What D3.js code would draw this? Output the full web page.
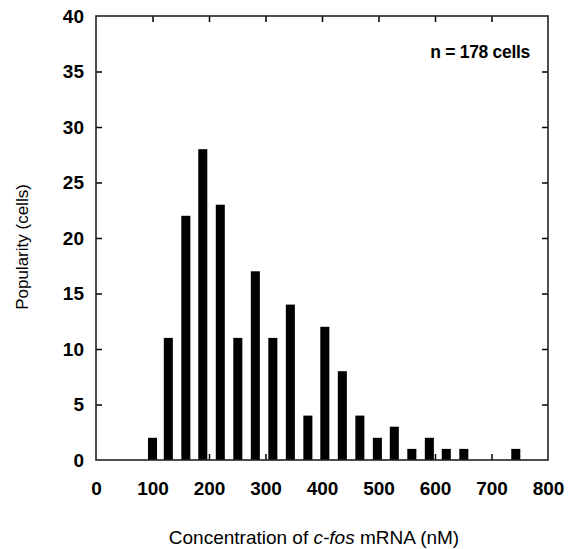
<!DOCTYPE html>
<html>
<head>
<meta charset="utf-8">
<script src="https://cdn.jsdelivr.net/npm/d3@7"></script>
<style>
  body { margin: 0; background: #fff; }
  text { font-family: "Liberation Sans", Arial, sans-serif; }
</style>
</head>
<body>
<svg id="chart" width="570" height="549"></svg>
<script>
// bin centres (nM) and counts
const binCenters = [100, 128, 159, 189, 220, 251, 282, 313, 344, 375, 405, 436, 467, 498, 528, 559, 590, 620, 651, 743];
const cellCounts = [2, 11, 22, 28, 23, 11, 17, 11, 14, 4, 12, 8, 4, 2, 3, 1, 2, 1, 1, 1];
const xTicks = [0, 100, 200, 300, 400, 500, 600, 700, 800];
const yTicks = [0, 5, 10, 15, 20, 25, 30, 35, 40];

const margin = { top: 16, right: 22, bottom: 89, left: 96 };
const width = 570 - margin.left - margin.right;
const height = 549 - margin.top - margin.bottom;

const svg = d3.select('#chart');
const g = svg.append('g')
  .attr('transform', `translate(${margin.left},${margin.top})`);

const x = d3.scaleLinear().domain([0, 800]).range([0, width]);
const y = d3.scaleLinear().domain([0, 40]).range([height, 0]);

const barW = x(16) - x(0);

// bars
g.append('g')
  .selectAll('rect')
  .data(binCenters.map((c, i) => ({ c, v: cellCounts[i] })))
  .enter()
  .append('rect')
  .attr('x', d => x(d.c) - barW / 2)
  .attr('y', d => y(d.v))
  .attr('width', barW)
  .attr('height', d => y(0) - y(d.v))
  .attr('fill', '#000');

const inner = xTicks.slice(1, -1);
const innerY = yTicks.slice(1, -1);

// bottom axis with labels, inward ticks
const xAxis = g.append('g')
  .attr('transform', `translate(0,${height})`)
  .call(d3.axisBottom(x).tickValues(xTicks).tickSizeInner(-6).tickSizeOuter(0).tickPadding(22));
xAxis.selectAll('.tick line').filter(d => d === 0 || d === 800).remove();
xAxis.selectAll('text')
  .attr('font-size', 19).attr('font-weight', 'bold').attr('fill', '#000')
  .attr('font-family', '"Liberation Sans", Arial, sans-serif');

// top ticks only
g.append('g')
  .call(d3.axisTop(x).tickValues(inner).tickSizeInner(-6).tickSizeOuter(0).tickFormat(''));

// left axis with labels
const yAxis = g.append('g')
  .call(d3.axisLeft(y).tickValues(yTicks).tickSizeInner(-6).tickSizeOuter(0).tickPadding(12));
yAxis.selectAll('.tick line').filter(d => d === 0 || d === 40).remove();
yAxis.selectAll('text')
  .attr('font-size', 19).attr('font-weight', 'bold').attr('fill', '#000')
  .attr('font-family', '"Liberation Sans", Arial, sans-serif');

// right ticks only
g.append('g')
  .attr('transform', `translate(${width},0)`)
  .call(d3.axisRight(y).tickValues(innerY).tickSizeInner(-6).tickSizeOuter(0).tickFormat(''));

g.selectAll('.domain').remove();
g.selectAll('.tick line').attr('stroke', '#000').attr('stroke-width', 1.5);

// frame
g.append('rect')
  .attr('width', width).attr('height', height)
  .attr('fill', 'none').attr('stroke', '#222').attr('stroke-width', 1.6);

// annotation
g.append('text')
  .attr('x', width - 18).attr('y', 42)
  .attr('text-anchor', 'end')
  .attr('font-size', 17.5).attr('font-weight', 'bold')
  .attr('letter-spacing', -0.3)
  .text('n = 178 cells');

// axis titles
const xt = svg.append('text')
  .attr('x', 314).attr('y', 544)
  .attr('text-anchor', 'middle')
  .attr('font-size', 19);
xt.append('tspan').text('Concentration of ');
xt.append('tspan').attr('font-style', 'italic').text('c-fos');
xt.append('tspan').text(' mRNA (nM)');

svg.append('text')
  .attr('transform', 'translate(28,247) rotate(-90)')
  .attr('text-anchor', 'middle')
  .attr('font-size', 17)
  .text('Popularity (cells)');
</script>
</body>
</html>
